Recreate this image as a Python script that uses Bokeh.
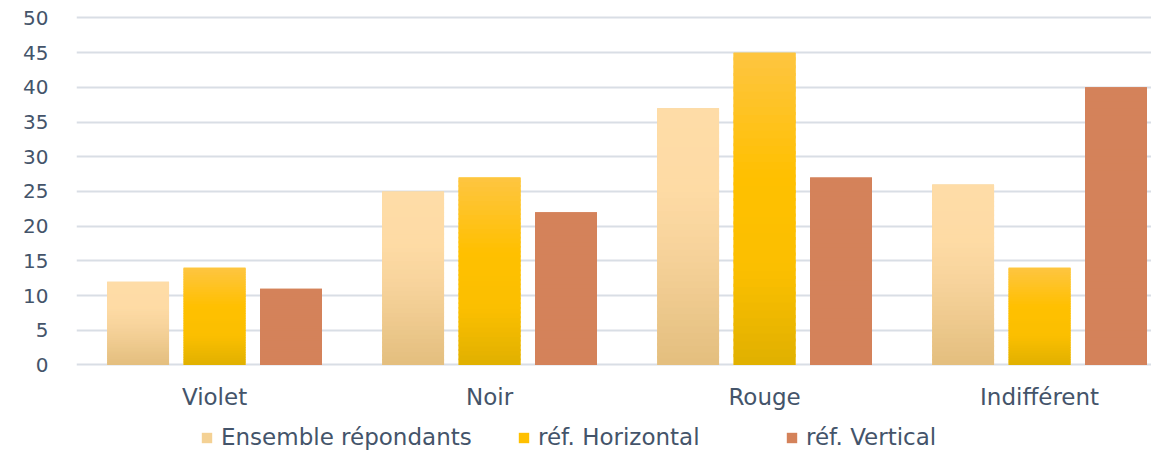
from bokeh.plotting import figure
from bokeh.models import Range1d, FixedTicker, Legend, LegendItem, ColumnDataSource
from bokeh.core.properties import value
from bokeh.embed import file_html
from bokeh.resources import INLINE

# ---- data ----
categories = ["Violet", "Noir", "Rouge", "Indifférent"]
series_names = ["Ensemble répondants", "réf. Horizontal", "réf. Vertical"]
ensemble = [12, 25, 37, 26]
horizontal = [14, 27, 45, 14]
vertical = [11, 22, 27, 40]
y_ticks = [0, 5, 10, 15, 20, 25, 30, 35, 40, 45, 50]

# ---- styles ----
FONT = "DejaVu Sans"
TXT = "#44546A"
GRID = "#D9DEE5"
legend_colors = ["#F4D194", "#FFC000", "#D4825A"]
legend_x = [124, 441, 709]  # screen offsets of legend entries from frame left
# gradient stops (fraction of bar height from bottom, colour)
gradients = [
    [(0.0, "#E3BE7E"), (0.45, "#F7D39B"), (0.7, "#FEDBA5"), (1.0, "#FEDCA7")],
    [(0.0, "#E0B000"), (0.3, "#FBBF00"), (0.6, "#FFC000"), (1.0, "#FEC541")],
    [(0.0, "#D4825A"), (1.0, "#D4825A")],
]
offsets = [-0.278, 0.0, 0.278]
bar_w = 0.225
N = 40
label_y = -4.54  # category labels sit below the zero line


def hex2rgb(h):
    h = h.lstrip("#")
    return tuple(int(h[i:i + 2], 16) for i in (0, 2, 4))


def grad_color(stops, f):
    for (f0, c0), (f1, c1) in zip(stops[:-1], stops[1:]):
        if f0 <= f <= f1:
            t = 0 if f1 == f0 else (f - f0) / (f1 - f0)
            a, b = hex2rgb(c0), hex2rgb(c1)
            r = [round(a[i] + (b[i] - a[i]) * t) for i in range(3)]
            return "#%02X%02X%02X" % tuple(r)
    return stops[-1][1]


p = figure(width=1151, height=450, output_backend="svg", toolbar_location=None,
           x_range=Range1d(-0.502, 3.407), y_range=Range1d(-12.32, 50.5),
           min_border_left=76, min_border_right=0, min_border_top=14,
           min_border_bottom=0)
p.outline_line_color = None
p.background_fill_color = "white"
p.border_fill_color = "white"
p.xaxis.visible = False

p.xgrid.grid_line_color = None
p.ygrid.grid_line_color = GRID
p.ygrid.grid_line_width = 2
p.yaxis.ticker = FixedTicker(ticks=y_ticks)
p.yaxis.axis_line_color = None
p.yaxis.major_tick_line_color = None
p.yaxis.minor_tick_line_color = None
p.yaxis.major_tick_out = 0
p.yaxis.major_label_text_font = FONT
p.yaxis.major_label_text_color = TXT
p.yaxis.major_label_text_font_size = "20px"
p.yaxis.major_label_standoff = 28

# category labels
cat_src = ColumnDataSource(dict(x=list(range(len(categories))),
                                y=[label_y] * len(categories), text=categories))
p.text(x="x", y="y", text="text", source=cat_src, text_align="center",
       text_baseline="middle", text_font=value(FONT), text_font_size="23px",
       text_color=TXT)

all_series = [ensemble, horizontal, vertical]
for s, vals in enumerate(all_series):
    xs = [i + offsets[s] for i in range(len(categories))]
    base = p.vbar(x=xs, top=vals, bottom=0, width=bar_w,
                  fill_color=legend_colors[s], line_color=None)
    # gradient slices
    L, R, B, T, C = [], [], [], [], []
    for x, v in zip(xs, vals):
        for k in range(N):
            b = v * k / N
            t = min(v, v * (k + 1.4) / N)
            L.append(x - bar_w / 2)
            R.append(x + bar_w / 2)
            B.append(b)
            T.append(t)
            C.append(grad_color(gradients[s], (k + 0.5) / N))
    src = ColumnDataSource(dict(left=L, right=R, bottom=B, top=T, color=C))
    p.quad(left="left", right="right", bottom="bottom", top="top",
           fill_color="color", line_color=None, source=src)

    legend = Legend(items=[LegendItem(label=series_names[s], renderers=[base])],
                    orientation="horizontal", location=(legend_x[s], 0),
                    glyph_width=13, glyph_height=13, label_standoff=8,
                    border_line_alpha=0, background_fill_alpha=0,
                    label_text_font=FONT, label_text_font_size="23px",
                    label_text_color=TXT, margin=0, padding=0)
    p.add_layout(legend)

open("out.html", "w").write(file_html(p, INLINE))
